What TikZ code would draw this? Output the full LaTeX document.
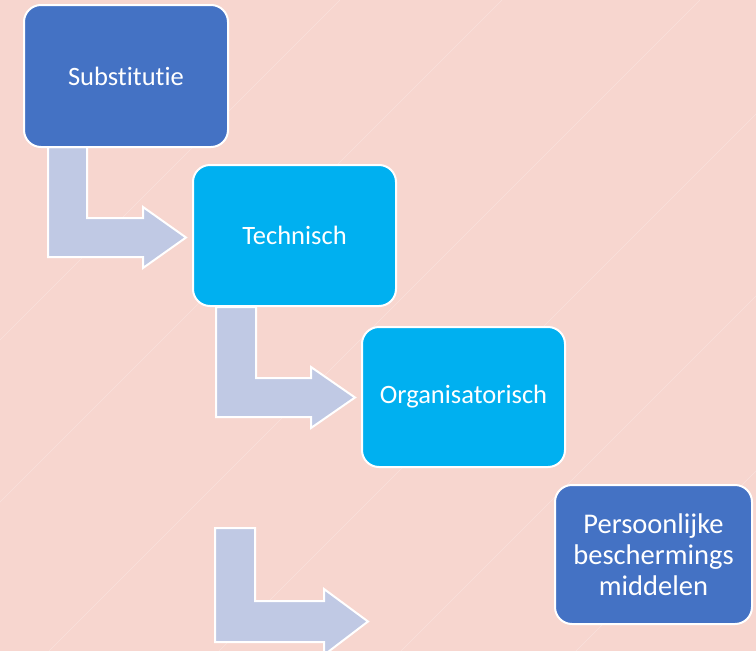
\documentclass[tikz,border=0pt]{standalone}
\usepackage{fontspec}
\setmainfont{Carlito}[Ligatures={NoCommon,NoRare}]
\definecolor{bgpink}{HTML}{F7D6CF}
\definecolor{darkblue}{HTML}{4472C4}
\definecolor{lightblue}{HTML}{00B0F0}
\definecolor{arrowfill}{HTML}{C0C9E4}
\tikzset{
  stepbox/.style={rectangle, rounded corners=17pt, draw=white, line width=2pt,
    text=white, inner sep=0pt, align=center,
    font=\fontsize{26.5}{31}\selectfont},
  bentarrow/.style={fill=arrowfill, draw=white, line width=2pt, line join=miter},
  bgline/.style={draw=white, opacity=0.28, line width=0.6pt}
}
\begin{document}
\begin{tikzpicture}[x=1pt,y=-1pt]
  \fill[bgpink] (0,0) rectangle (756,651);
  \useasboundingbox (0,0) rectangle (756,651);
  % faint diagonal background lines (x+y = const)
  \foreach \c in {340,502,700,870,1052,1227}{
    \draw[bgline] (\c-651,651) -- (\c,0);
  }
  % bent arrows
  \draw[bentarrow] (48,147) -- (87,147) -- (87,218) -- (143,218) -- (143,207)
     -- (186,237.5) -- (143,268) -- (143,257) -- (48,257) -- cycle;
  \draw[bentarrow] (216,307) -- (256,307) -- (256,378) -- (311,378) -- (311,367)
     -- (355,397.5) -- (311,428) -- (311,417) -- (216,417) -- cycle;
  \draw[bentarrow] (215,528) -- (255,528) -- (255,601) -- (324,601) -- (324,589)
     -- (368,621.5) -- (324,655) -- (324,642) -- (215,642) -- cycle;
  % boxes
  \node[stepbox, fill=darkblue, minimum width=204pt, minimum height=142pt] (subst) at (126,76) {Substitutie};
  \node[stepbox, fill=lightblue, minimum width=203pt, minimum height=141pt] (tech) at (294.5,235.5) {Technisch};
  \node[stepbox, fill=lightblue, minimum width=203pt, minimum height=140pt] (org) at (463.5,397) {Organisatorisch};
  \node[stepbox, fill=darkblue, minimum width=197pt, minimum height=139pt,
        font=\fontsize{28.5}{31}\selectfont] (pbm) at (653.5,554.5) {Persoonlijke\\beschermings\\middelen};
\end{tikzpicture}
\end{document}
